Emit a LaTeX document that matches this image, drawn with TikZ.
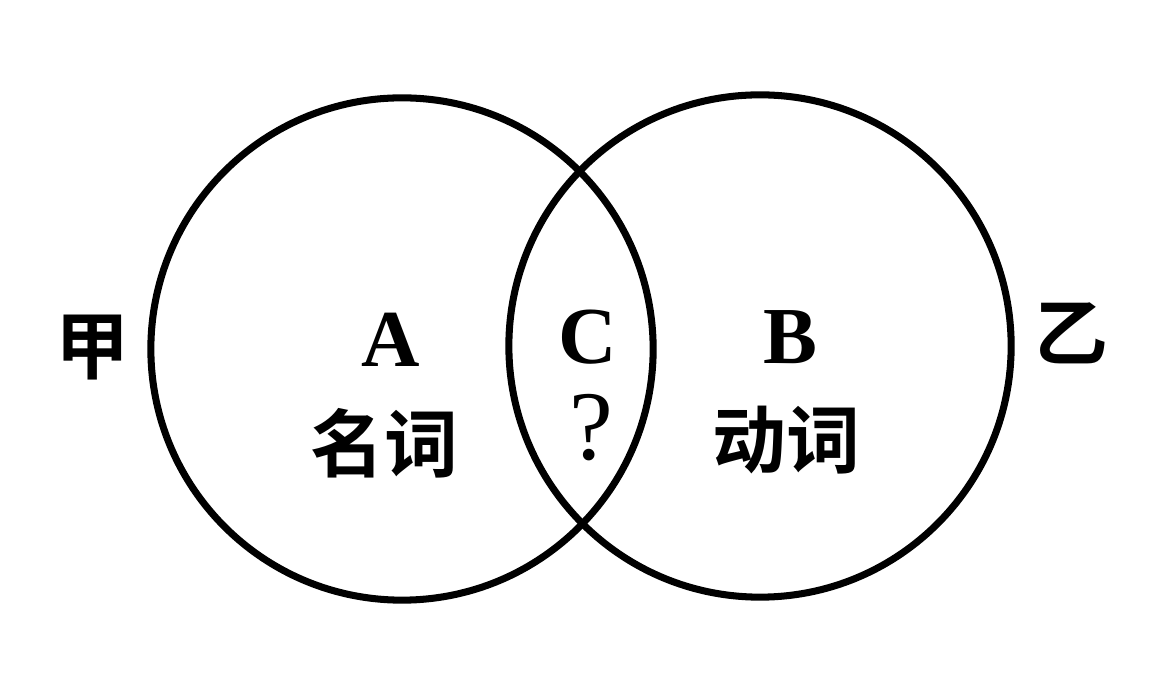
\documentclass[tikz,border=0pt]{standalone}
\usepackage{fontspec}
\setmainfont{Liberation Serif}
\newfontfamily\cjk{Noto Sans CJK SC}[BoldFont={* Bold}]
\usepackage{tikz}

\begin{document}
\begin{tikzpicture}[
  x=0.01cm, y=-0.01cm,
  set/.style={draw=black, line width=2pt},
  letter/.style={font=\fontsize{23}{23}\selectfont\bfseries},
  word/.style={font=\fontsize{21}{21}\selectfont\cjk\bfseries},
  query/.style={font=\fontsize{28}{28}\selectfont}
]
  \useasboundingbox (0,0) rectangle (1168,686);

  % the two sets
  \draw[set] (402,349) circle[radius=2.51cm];
  \draw[set] (760,346) circle[radius=2.51cm];

  % set names
  \node[word] (jia) at (92,348)  {甲};
  \node[word] (yi)  at (1071,333) {乙};

  % region labels
  \node[letter] (a)     at (391,340) {A};
  \node[word]   (nouns) at (384,443) {名词};
  \node[letter] (c)     at (588,337) {C};
  \node[query]  (q)     at (591,428) {?};
  \node[letter] (b)     at (790,337) {B};
  \node[word]   (verbs) at (786,440) {动词};
\end{tikzpicture}
\end{document}
